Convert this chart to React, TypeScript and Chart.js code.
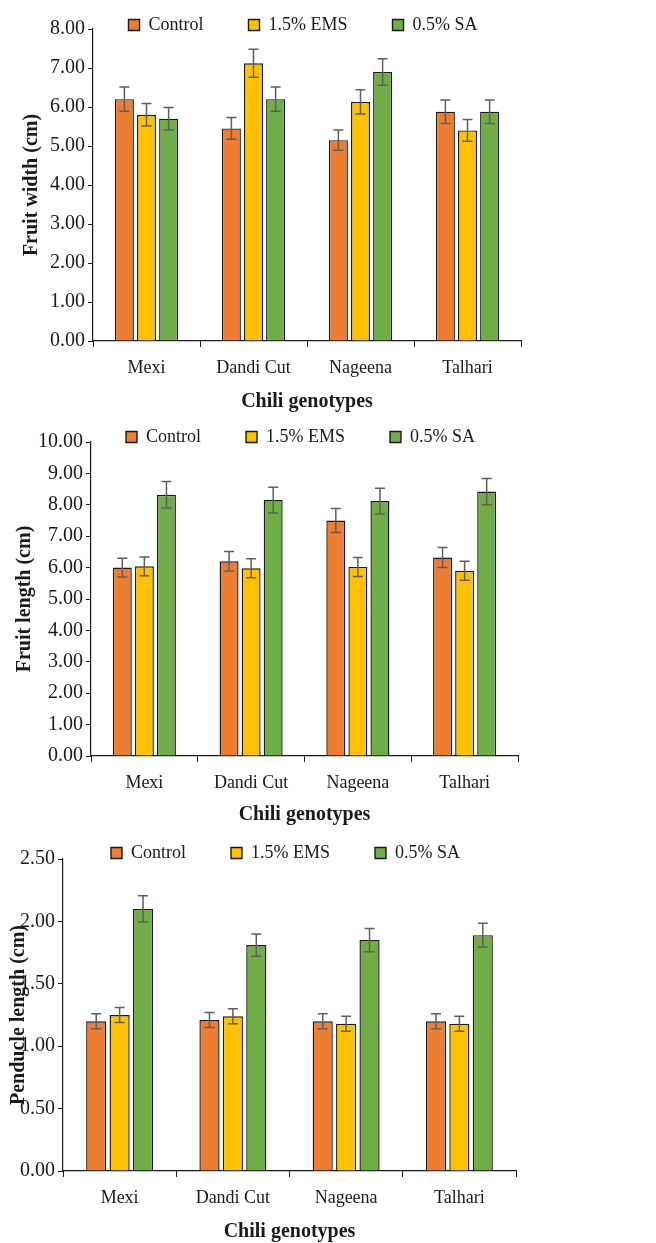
import React, { useEffect, useRef } from "react";
import { Chart, registerables } from "chart.js";

Chart.register(...registerables);

const categories = ["Mexi", "Dandi Cut", "Nageena", "Talhari"];
const seriesNames = ["Control", "1.5% EMS", "0.5% SA"];
const seriesColors = ["#ED7D31", "#FFC000", "#70AD47"];
const xTitle = "Chili genotypes";

// Chart 1: Fruit width (cm)
const widthControl = [6.2, 5.45, 5.15, 5.88];
const widthEms = [5.8, 7.12, 6.13, 5.4];
const widthSa = [5.7, 6.2, 6.9, 5.88];
const widthControlErr = [0.31, 0.28, 0.26, 0.3];
const widthEmsErr = [0.29, 0.36, 0.31, 0.28];
const widthSaErr = [0.29, 0.31, 0.34, 0.3];

// Chart 2: Fruit length (cm)
const lengthControl = [6.0, 6.2, 7.5, 6.32];
const lengthEms = [6.04, 5.98, 6.02, 5.9];
const lengthSa = [8.32, 8.15, 8.12, 8.42];
const lengthControlErr = [0.3, 0.31, 0.38, 0.32];
const lengthEmsErr = [0.3, 0.3, 0.3, 0.3];
const lengthSaErr = [0.42, 0.41, 0.41, 0.42];

// Chart 3: Penducle length (cm)
const pedControl = [1.2, 1.21, 1.2, 1.2];
const pedEms = [1.25, 1.24, 1.18, 1.18];
const pedSa = [2.1, 1.81, 1.85, 1.89];
const pedControlErr = [0.06, 0.06, 0.06, 0.06];
const pedEmsErr = [0.06, 0.06, 0.06, 0.06];
const pedSaErr = [0.105, 0.09, 0.093, 0.095];

const SERIF = "'Liberation Serif', 'Times New Roman', serif";
const INK = "#1a1a1a";

const errorBarPlugin = {
  id: "errorBars",
  afterDatasetsDraw(chart: any) {
    const ctx = chart.ctx;
    const yScale = chart.scales.y;
    ctx.save();
    ctx.strokeStyle = "#5f5f5f";
    ctx.lineWidth = 1.5;
    chart.data.datasets.forEach((ds: any, i: number) => {
      const meta = chart.getDatasetMeta(i);
      meta.data.forEach((el: any, j: number) => {
        const v = ds.data[j];
        const e = ds.errors[j];
        const yt = yScale.getPixelForValue(v + e);
        const yb = yScale.getPixelForValue(v - e);
        const x = el.x;
        const cap = 5;
        ctx.beginPath();
        ctx.moveTo(x, yt);
        ctx.lineTo(x, yb);
        ctx.moveTo(x - cap, yt);
        ctx.lineTo(x + cap, yt);
        ctx.moveTo(x - cap, yb);
        ctx.lineTo(x + cap, yb);
        ctx.stroke();
      });
    });
    ctx.restore();
  },
};

// Keeps the legend from taking layout space and overlays it on the top of the plot.
const legendShiftPlugin = {
  id: "legendShift",
  beforeLayout(chart: any) {
    const lg = chart.legend;
    if (!lg || lg._zeroFit) return;
    const orig = lg.fit.bind(lg);
    lg.fit = function () {
      orig();
      this.height = 0;
    };
    lg._zeroFit = true;
  },
  afterLayout(chart: any) {
    const lg = chart.legend;
    if (!lg) return;
    const o = chart.options.plugins.legendShift || {};
    const pad = chart.options.plugins.legend.labels.padding;
    const ca = chart.chartArea;
    const dx = o.dx || 0;
    const dy = o.dy || 0;
    const w = lg.right - lg.left;
    const center = (ca.left + ca.right) / 2 + dx;
    lg.left = center - w / 2;
    lg.right = center + w / 2;
    lg.top = ca.top + dy - 9 - pad;
    lg.bottom = lg.top + 2 * pad + 18;
  },
};

type Cfg = {
  height: number;
  yTitle: string;
  yMax: number;
  yStep: number;
  values: number[][];
  errors: number[][];
  topPad: number;
  axisLeft: number;
  rightPad: number;
  yTitlePad: number;
  xHeight: number;
  xTitlePad: number;
  legendDx: number;
  legendDy: number;
};

function BarChart({ cfg }: { cfg: Cfg }) {
  const ref = useRef<HTMLCanvasElement | null>(null);
  useEffect(() => {
    if (!ref.current) return;
    const chart = new Chart(ref.current, {
      type: "bar",
      data: {
        labels: categories,
        datasets: seriesNames.map((name, i) => ({
          label: name,
          data: cfg.values[i],
          errors: cfg.errors[i],
          backgroundColor: seriesColors[i],
          borderColor: INK,
          borderWidth: 1.4,
          categoryPercentage: 0.62,
          barPercentage: 0.86,
        })) as any,
      },
      options: {
        responsive: false,
        animation: false,
        layout: { padding: { top: cfg.topPad, right: cfg.rightPad, left: 0, bottom: 0 } },
        plugins: {
          legend: {
            position: "top",
            labels: {
              boxWidth: 11,
              boxHeight: 11,
              padding: 45,
              color: INK,
              font: { family: SERIF, size: 18 },
            },
          },
          tooltip: { enabled: false },
          legendShift: { dx: cfg.legendDx, dy: cfg.legendDy },
        } as any,
        scales: {
          x: {
            grid: {
              display: true,
              drawOnChartArea: false,
              drawTicks: true,
              tickLength: 6,
              tickColor: INK,
              offset: true,
            },
            border: { display: true, color: INK, width: 1.2 },
            ticks: {
              color: INK,
              padding: 10,
              font: { family: SERIF, size: 18 },
            },
            title: {
              display: true,
              text: xTitle,
              color: INK,
              font: { family: SERIF, size: 20, weight: "bold" },
              padding: { top: 0, bottom: cfg.xTitlePad },
            },
            afterFit: (s: any) => {
              s.height = cfg.xHeight;
            },
          },
          y: {
            min: 0,
            max: cfg.yMax,
            grid: {
              display: true,
              drawOnChartArea: false,
              drawTicks: true,
              tickLength: 5,
              tickColor: INK,
            },
            border: { display: true, color: INK, width: 1.2 },
            ticks: {
              stepSize: cfg.yStep,
              color: INK,
              padding: 3,
              font: { family: SERIF, size: 20 },
              callback: (v: any) => Number(v).toFixed(2),
            },
            title: {
              display: true,
              text: cfg.yTitle,
              color: INK,
              font: { family: SERIF, size: 20, weight: "bold" },
              padding: { top: cfg.yTitlePad, bottom: 0 },
            },
            afterFit: (s: any) => {
              s.width = cfg.axisLeft;
            },
          },
        },
      },
      plugins: [errorBarPlugin, legendShiftPlugin],
    });
    return () => chart.destroy();
  }, [cfg]);
  return (
    <div style={{ width: 640, height: cfg.height }}>
      <canvas ref={ref} width={640} height={cfg.height} style={{ display: "block" }} />
    </div>
  );
}

const chart1: Cfg = {
  height: 412,
  yTitle: "Fruit width (cm)",
  yMax: 8,
  yStep: 1,
  values: [widthControl, widthEms, widthSa],
  errors: [widthControlErr, widthEmsErr, widthSaErr],
  topPad: 21,
  axisLeft: 85,
  rightPad: 127,
  yTitlePad: 12,
  xHeight: 79,
  xTitlePad: 6,
  legendDx: -4,
  legendDy: -4,
};

const chart2: Cfg = {
  height: 415,
  yTitle: "Fruit length (cm)",
  yMax: 10,
  yStep: 1,
  values: [lengthControl, lengthEms, lengthSa],
  errors: [lengthControlErr, lengthEmsErr, lengthSaErr],
  topPad: 22,
  axisLeft: 83,
  rightPad: 130,
  yTitlePad: 5,
  xHeight: 79,
  xTitlePad: 8,
  legendDx: -4,
  legendDy: -5,
};

const chart3: Cfg = {
  height: 415,
  yTitle: "Penducle length (cm)",
  yMax: 2.5,
  yStep: 0.5,
  values: [pedControl, pedEms, pedSa],
  errors: [pedControlErr, pedEmsErr, pedSaErr],
  topPad: 24,
  axisLeft: 55,
  rightPad: 132,
  yTitlePad: -1.5,
  xHeight: 79,
  xTitlePad: 6,
  legendDx: -4,
  legendDy: -6,
};

export default function App() {
  return (
    <div>
      <BarChart cfg={chart1} />
      <BarChart cfg={chart2} />
      <BarChart cfg={chart3} />
    </div>
  );
}
